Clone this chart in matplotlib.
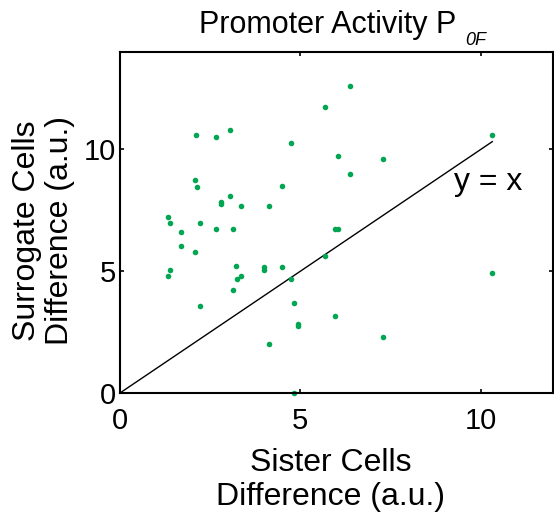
# plot.py
# Sister vs surrogate cell differences for promoter activity

import numpy as np
import matplotlib
matplotlib.use("Agg")
import matplotlib.pyplot as plt

# Data
sister_diff = [5.67, 2.12, 2.65, 3.04, 4.73, 6.05, 2.07, 2.13, 4.48, 3.04,
               2.79, 2.79, 3.36, 4.12, 1.32, 1.38, 2.23, 2.65, 3.13, 1.69,
               5.97, 6.04, 6.38, 10.32, 7.29, 6.38, 1.70, 2.07, 5.67, 3.22,
               1.38, 3.99, 3.99, 4.48, 1.32, 3.23, 3.36, 4.73, 3.13, 4.83,
               2.23, 5.97, 4.94, 4.94, 4.12, 4.83, 10.32, 7.28]
surrogate_diff = [11.75, 10.59, 10.49, 10.79, 10.25, 9.71, 8.74, 8.44, 8.48, 8.08,
                  7.85, 7.76, 7.67, 7.67, 7.22, 6.99, 6.99, 6.75, 6.75, 6.63,
                  6.73, 6.74, 12.61, 10.60, 9.60, 9.01, 6.02, 5.77, 5.63, 5.20,
                  5.07, 5.16, 5.05, 5.16, 4.81, 4.70, 4.80, 4.70, 4.24, 3.71,
                  3.57, 3.17, 2.84, 2.75, 2.00, 0.00, 4.91, 2.28]
TICKS = [0, 5, 10]

plt.rcParams['font.family'] = ['Liberation Sans', 'DejaVu Sans']


def main():
    fig = plt.figure(figsize=(5.54, 5.19), dpi=100)
    ax = fig.add_axes([0.2166, 0.2428, 0.7814, 0.657])

    x = np.array(sister_diff)
    y = np.array(surrogate_diff)

    # y = x reference line up to the largest sister value
    xmax = x.max()
    ax.plot([0, xmax], [0, xmax], color='black', lw=1.0, zorder=1)
    ax.plot(x, y, 'o', color='#00A651', ms=4.0, mec='none', zorder=2, clip_on=False)

    ax.text(9.27, 8.33, 'y = x', fontsize=23, va='baseline', ha='left')

    ax.set_xlim(0, 12)
    ax.set_ylim(0, 14)
    ax.set_xticks(TICKS)
    ax.set_yticks(TICKS)
    ax.tick_params(direction='in', length=3, width=1.2, labelsize=21,
                   top=True, right=True)
    ax.tick_params(axis='x', pad=10)
    ax.tick_params(axis='y', pad=3)
    for s in ax.spines.values():
        s.set_linewidth(1.5)

    # title with a small, detached italic subscript
    fig.text(199 / 554, 1 - 33 / 519, 'Promoter Activity P', fontsize=22,
             ha='left', va='baseline')
    fig.text(465 / 554, 1 - 45 / 519, '0F', fontsize=13, style='italic',
             ha='left', va='baseline')

    ax.set_xlabel('Sister Cells\nDifference (a.u.)', fontsize=23, linespacing=1.15,
                  va='center', ha='center')
    ax.xaxis.set_label_coords(0.487, -0.255)
    ax.set_ylabel('Surrogate Cells\nDifference (a.u.)', fontsize=23, linespacing=1.15,
                  va='center', ha='center')
    ax.yaxis.set_label_coords(-0.1767, 0.4765)

    fig.savefig('out.png', dpi=100)


if __name__ == "__main__":
    main()
